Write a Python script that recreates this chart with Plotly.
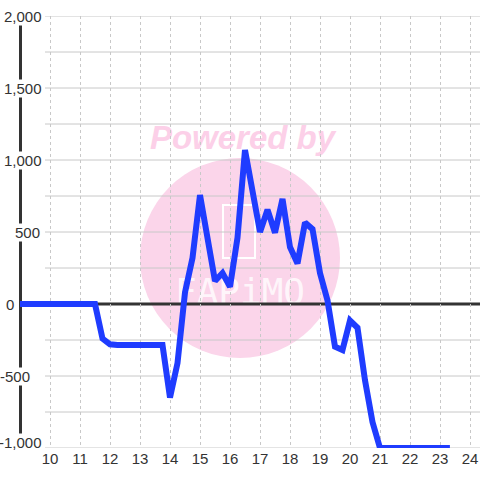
import plotly.graph_objects as go

# ---- data ----
hours = [9.0, 9.25, 9.5, 9.75, 10.0, 10.25, 10.5, 10.75, 11.0, 11.25, 11.5,
         11.75, 12.0, 12.25, 12.5, 12.75, 13.0, 13.25, 13.5, 13.75,
         14.0, 14.25, 14.5, 14.75, 15.0, 15.25, 15.5, 15.75, 16.0, 16.25,
         16.5, 16.75, 17.0, 17.25, 17.5, 17.75, 18.0, 18.25, 18.5, 18.75,
         19.0, 19.25, 19.5, 19.75, 20.0, 20.25, 20.5, 20.75, 21.0, 21.25,
         21.5, 21.75, 22.0, 22.25, 22.5, 22.75, 23.0, 23.33]
values = [0, 0, 0, 0, 0, 0, 0, 0, 0, 0, 0,
          -240, -280, -285, -285, -285, -285, -285, -285, -285,
          -650, -410, 80, 320, 757, 460, 160, 215, 120, 460,
          1070, 785, 500, 655, 495, 730, 395, 282, 565, 520,
          215, 25, -296, -320, -115, -165, -530, -820, -1000, -1000,
          -1000, -1000, -1000, -1000, -1000, -1000, -1000, -1000]

x_ticks = [10, 11, 12, 13, 14, 15, 16, 17, 18, 19, 20, 21, 22, 23, 24]
y_label_vals = [2000, 1500, 1000, 500, 0, -500, -1000]
y_label_text = ["2,000", "1,500", "1,000", "500", "0", "-500", "-1,000"]
y_grid_vals = [-1000, -750, -500, -250, 250, 500, 750, 1000, 1250, 1500, 1750, 2000]

# ---- style / layout constants (pixels) ----
W, H = 480, 480
ML, MR, MT, MB = 20, 0, 16, 32
PW, PH = W - ML - MR, H - MT - MB
X_RANGE = [9.0, 24.3333]
Y_RANGE = [-1000, 2000]
label_right_px = [43, 43, 43, 41, 15, 31, 43]   # right edges of y labels
label_yshift = [0, 0, 0, 0, 0, 0, 6]
FONT = "Liberation Sans"


def px_x(p):
    return (p - ML) / PW


def px_y(p):
    return (H - MB - p) / PH


fig = go.Figure()
fig.add_trace(go.Scatter(
    x=hours, y=values, mode="lines",
    line=dict(color="#1f3cff", width=6),
    hoverinfo="skip", showlegend=False,
))

shapes = []
# watermark circle
shapes.append(dict(type="circle", xref="paper", yref="paper",
                   x0=px_x(140), x1=px_x(340), y0=px_y(358), y1=px_y(158),
                   fillcolor="#fbd5ea", line=dict(width=0), layer="below"))
# watermark logo box
shapes.append(dict(type="rect", xref="paper", yref="paper",
                   x0=px_x(223), x1=px_x(255), y0=px_y(258), y1=px_y(205),
                   fillcolor="rgba(0,0,0,0)", line=dict(color="white", width=2),
                   layer="below"))
# watermark logo text
shapes.append(dict(type="rect", xref="paper", yref="paper",
                   x0=px_x(170), x1=px_x(310), y0=px_y(305), y1=px_y(272),
                   fillcolor="rgba(0,0,0,0)", line=dict(width=0), layer="below",
                   label=dict(text="FAPiMO",
                              font=dict(family="DejaVu Sans Mono", size=36,
                                        color="rgba(255,255,255,0.8)"))))
# "Powered by" text
shapes.append(dict(type="rect", xref="paper", yref="paper",
                   x0=px_x(130), x1=px_x(355), y0=px_y(152), y1=px_y(116),
                   fillcolor="rgba(0,0,0,0)", line=dict(width=0), layer="below",
                   label=dict(text="<b><i>Powered by</i></b>",
                              font=dict(family=FONT, size=33, color="#fcd0e8"))))
# horizontal grid lines
for v in y_grid_vals:
    shapes.append(dict(type="line", xref="paper", yref="y",
                       x0=px_x(45), x1=1, y0=v, y1=v,
                       line=dict(color="#c8c8c8", width=1), layer="between"))
# zero line
shapes.append(dict(type="line", xref="paper", yref="y", x0=0, x1=1, y0=0, y1=0,
                   line=dict(color="#333333", width=3), layer="between"))
# left axis line
shapes.append(dict(type="line", xref="paper", yref="paper",
                   x0=px_x(20.5), x1=px_x(20.5), y0=px_y(435), y1=px_y(24),
                   line=dict(color="#333333", width=3), layer="between"))

annotations = []
for v, t, r, s in zip(y_label_vals, y_label_text, label_right_px, label_yshift):
    annotations.append(dict(x=px_x(r), y=v, xref="paper", yref="y",
                            text=t, showarrow=False, xanchor="right",
                            yanchor="middle", yshift=s, bgcolor="white",
                            borderpad=0,
                            font=dict(family=FONT, size=15, color="#333333")))

fig.update_layout(
    width=W, height=H,
    margin=dict(l=ML, r=MR, t=MT, b=MB, pad=0, autoexpand=False),
    paper_bgcolor="white", plot_bgcolor="white",
    shapes=shapes, annotations=annotations,
    showlegend=False,
    xaxis=dict(range=X_RANGE, tickvals=x_ticks, showgrid=True,
               gridcolor="#c8c8c8", gridwidth=1, griddash="dot",
               zeroline=False, showline=False, ticks="", automargin=False,
               tickfont=dict(family=FONT, size=15, color="#333333"),
               fixedrange=True),
    yaxis=dict(range=Y_RANGE, showgrid=False, zeroline=False, automargin=False,
               showline=False, showticklabels=False, ticks="",
               fixedrange=True),
)

fig.write_html("out.html",
               config={"displayModeBar": False},
               post_script="document.body.style.margin='0px';"
                           "document.body.style.overflow='hidden';")
